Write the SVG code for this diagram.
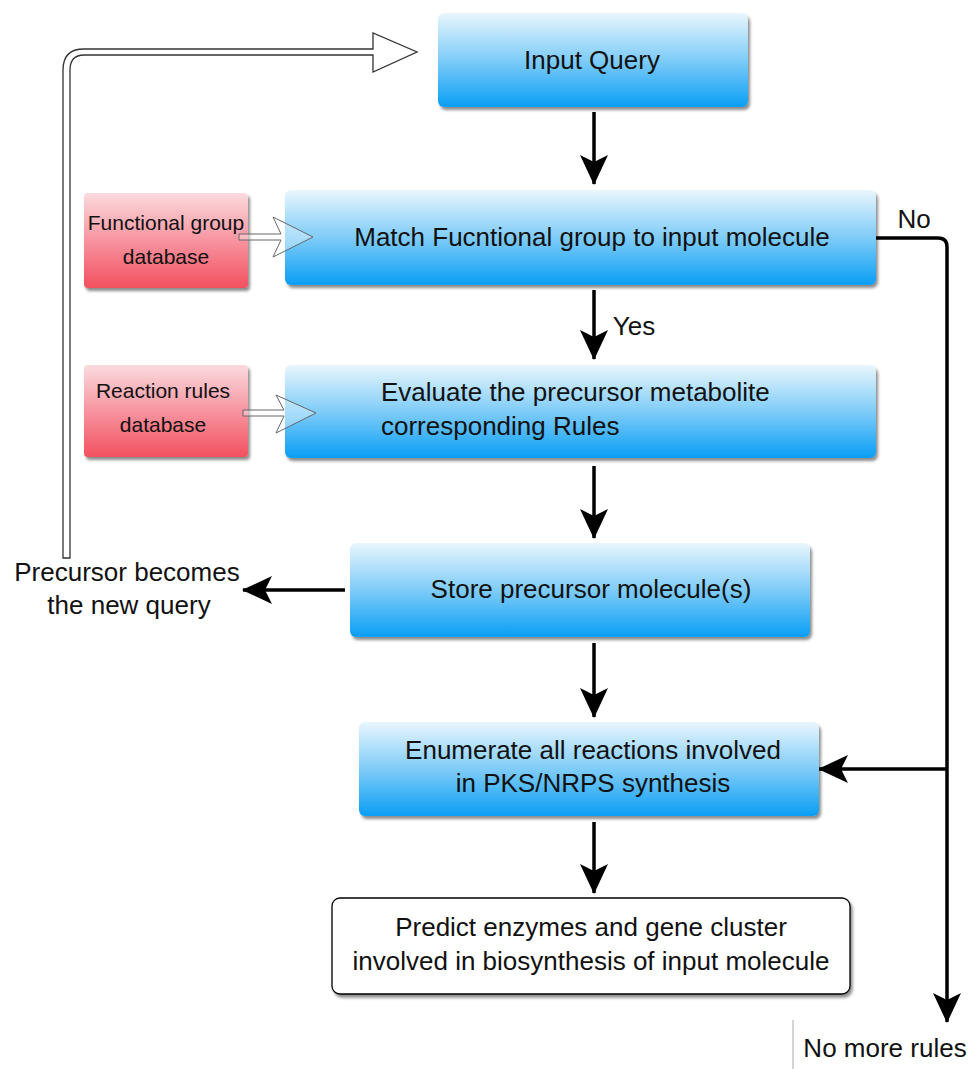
<svg xmlns="http://www.w3.org/2000/svg" width="969" height="1069" viewBox="0 0 969 1069">
<style>
.t{font-family:"Liberation Sans",Arial,sans-serif;font-size:26px;fill:#111;text-anchor:middle}
.s{font-family:"Liberation Sans",Arial,sans-serif;font-size:21px;fill:#111;text-anchor:middle}
.blue{fill:url(#gb);filter:url(#sh)}
.red{fill:url(#gr);filter:url(#sh)}
.conn{stroke:#000;stroke-width:3.5;fill:none;marker-end:url(#ah)}
.hollow{fill:#fff;stroke:#333;stroke-width:1.3}
.thin{fill:#fff;fill-opacity:0.35;stroke:#666;stroke-width:1}
</style>
<defs>
<linearGradient id="gb" x1="0" y1="0" x2="0" y2="1">
<stop offset="0" stop-color="#e9f6fd"/>
<stop offset="0.5" stop-color="#7fccf8"/>
<stop offset="1" stop-color="#0a9ef5"/>
</linearGradient>
<linearGradient id="gr" x1="0" y1="0" x2="0" y2="1">
<stop offset="0" stop-color="#fadbde"/>
<stop offset="0.5" stop-color="#f794a0"/>
<stop offset="1" stop-color="#f3505f"/>
</linearGradient>
<filter id="sh" x="-5%" y="-5%" width="115%" height="120%">
<feDropShadow dx="2" dy="3" stdDeviation="1.5" flood-color="#000" flood-opacity="0.45"/>
</filter>
<marker id="ah" viewBox="0 0 30 28" refX="29" refY="14" markerWidth="30" markerHeight="28" orient="auto" markerUnits="userSpaceOnUse">
<path d="M0,0 L30,14 L0,28 L7,14 Z" fill="#000"/>
</marker>
</defs>

<g id="connectors">
<path class="hollow" d="M63 558 L63 70 Q63 49 84 49 L373 49 L373 33 L417 52 L373 72 L373 55 L84 55 Q70 55 70 70 L70 558 Z"/>
<path class="conn" d="M594 112 L594 184"/>
<path class="conn" d="M594 290 L594 359"/>
<path class="conn" d="M594 466 L594 538"/>
<path class="conn" d="M594 643 L594 717"/>
<path class="conn" d="M594 822 L594 893"/>
<path class="conn" d="M345 590 L243 590"/>
<path class="conn" d="M947 769 L819 769"/>
<path class="conn" d="M876 238 L938 238 Q947 238 947 247 L947 1022"/>
<line x1="793" y1="1020" x2="793" y2="1069" stroke="#aaa" stroke-width="1"/>
</g>

<g id="input-query">
<rect class="blue" x="438" y="13" width="310" height="94" rx="6"/>
<text class="t" x="592" y="69">Input Query</text>
</g>

<g id="functional-group-db">
<rect class="red" x="84" y="193" width="164" height="95" rx="4"/>
<text class="s" x="166" y="230">Functional group</text>
<text class="s" x="166" y="264">database</text>
</g>

<g id="match">
<rect class="blue" x="285" y="190" width="591" height="95" rx="6"/>
<text class="t" x="592" y="246">Match Fucntional group to input molecule</text>
</g>

<g id="yes-label"><text class="t" x="634" y="335">Yes</text></g>
<g id="no-label"><text class="t" x="914" y="228">No</text></g>

<g id="reaction-rules-db">
<rect class="red" x="84" y="365" width="164" height="92" rx="4"/>
<text class="s" x="163" y="398">Reaction rules</text>
<text class="s" x="163" y="432">database</text>
</g>

<g id="evaluate">
<rect class="blue" x="285" y="365" width="591" height="93" rx="6"/>
<text class="t" x="381" y="401" style="text-anchor:start">Evaluate the precursor metabolite</text>
<text class="t" x="381" y="435" style="text-anchor:start">corresponding Rules</text>
</g>

<g id="store">
<rect class="blue" x="350" y="543" width="460" height="94" rx="6"/>
<text class="t" x="591" y="598">Store precursor molecule(s)</text>
</g>

<g id="precursor-label">
<text class="t" x="127" y="581">Precursor becomes</text>
<text class="t" x="129" y="614">the new query</text>
</g>

<g id="enumerate">
<rect class="blue" x="359" y="722" width="460" height="94" rx="6"/>
<text class="t" x="593" y="759">Enumerate all reactions involved</text>
<text class="t" x="593" y="792">in PKS/NRPS synthesis</text>
</g>

<g id="predict">
<rect x="332" y="898" width="518" height="96" rx="8" fill="#fff" stroke="#000" stroke-width="1.3" filter="url(#sh)"/>
<text class="t" x="591" y="936">Predict enzymes and gene cluster</text>
<text class="t" x="591" y="970">involved in biosynthesis of input molecule</text>
</g>

<g id="no-more-rules">
<text class="t" x="885" y="1057">No more rules</text>
</g>

<g id="database-connectors">
<path class="thin" d="M239 234 L281 234 L273 217 L313 237 L273 257 L281 240 L239 240 Z"/>
<path class="thin" d="M243 410 L284 410 L276 395 L316 413 L276 433 L284 416 L243 416 Z"/>
</g>
</svg>
